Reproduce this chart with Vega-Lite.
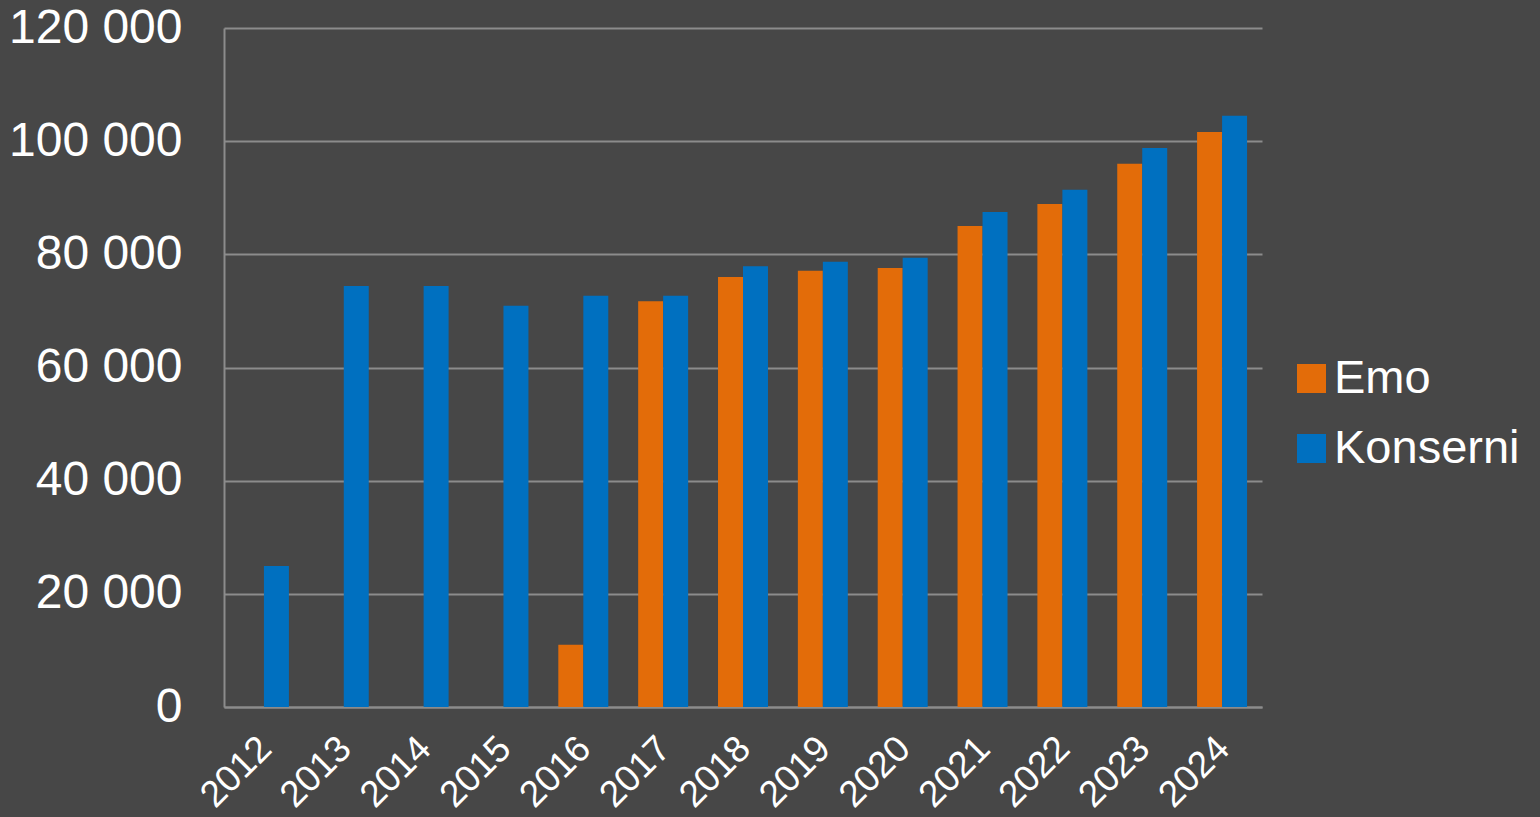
{
  "$schema": "https://vega.github.io/schema/vega-lite/v6.json",
  "width": 1038,
  "height": 679,
  "autosize": {"type": "none"},
  "padding": {"left": 224, "top": 28, "right": 278, "bottom": 110},
  "background": "#474747",
  "config": {
    "locale": {"number": {"decimal": ",", "thousands": " ", "grouping": [3], "currency": ["", " €"]}},
    "view": {"stroke": null},
    "font": "Liberation Sans"
  },
  "data": {
    "values": [
      {"year": "2012", "series": "Konserni", "value": 24900},
      {"year": "2013", "series": "Konserni", "value": 74400},
      {"year": "2014", "series": "Konserni", "value": 74400},
      {"year": "2015", "series": "Konserni", "value": 70900},
      {"year": "2016", "series": "Emo", "value": 11000},
      {"year": "2016", "series": "Konserni", "value": 72700},
      {"year": "2017", "series": "Emo", "value": 71700},
      {"year": "2017", "series": "Konserni", "value": 72700},
      {"year": "2018", "series": "Emo", "value": 76000},
      {"year": "2018", "series": "Konserni", "value": 77900},
      {"year": "2019", "series": "Emo", "value": 77100},
      {"year": "2019", "series": "Konserni", "value": 78700},
      {"year": "2020", "series": "Emo", "value": 77600},
      {"year": "2020", "series": "Konserni", "value": 79400},
      {"year": "2021", "series": "Emo", "value": 85000},
      {"year": "2021", "series": "Konserni", "value": 87500},
      {"year": "2022", "series": "Emo", "value": 88900},
      {"year": "2022", "series": "Konserni", "value": 91400},
      {"year": "2023", "series": "Emo", "value": 96000},
      {"year": "2023", "series": "Konserni", "value": 98800},
      {"year": "2024", "series": "Emo", "value": 101600},
      {"year": "2024", "series": "Konserni", "value": 104500}
    ]
  },
  "mark": {"type": "bar"},
  "encoding": {
    "x": {
      "field": "year",
      "type": "ordinal",
      "scale": {"paddingInner": 0.374, "paddingOuter": 0.187},
      "axis": {
        "title": null,
        "labelAngle": -45,
        "labelFontSize": 37,
        "labelColor": "#ffffff",
        "labelPadding": 23,
        "labelOffset": -11,
        "ticks": false,
        "grid": false,
        "domain": true,
        "domainColor": "#8c8c8c",
        "domainWidth": 2
      }
    },
    "xOffset": {
      "field": "series",
      "type": "nominal",
      "sort": ["Emo", "Konserni"],
      "scale": {"paddingInner": 0, "paddingOuter": 0}
    },
    "y": {
      "field": "value",
      "type": "quantitative",
      "scale": {"domain": [0, 120000]},
      "axis": {
        "title": null,
        "values": [0, 20000, 40000, 60000, 80000, 100000, 120000],
        "format": ",d",
        "labelFontSize": 48,
        "labelColor": "#ffffff",
        "labelPadding": 42,
        "ticks": false,
        "domain": true,
        "domainColor": "#8c8c8c",
        "domainWidth": 2,
        "grid": true,
        "gridColor": "#8c8c8c",
        "gridWidth": 2
      }
    },
    "color": {
      "field": "series",
      "type": "nominal",
      "scale": {"domain": ["Emo", "Konserni"], "range": ["#E36C09", "#0070C0"]},
      "legend": {
        "title": null,
        "orient": "none",
        "legendX": 1064,
        "legendY": 327,
        "padding": 0,
        "symbolType": "square",
        "symbolSize": 841,
        "symbolStrokeWidth": 0,
        "labelFontSize": 47,
        "labelColor": "#ffffff",
        "labelOffset": -1,
        "rowPadding": 22,
        "labelLimit": 400
      }
    }
  }
}
